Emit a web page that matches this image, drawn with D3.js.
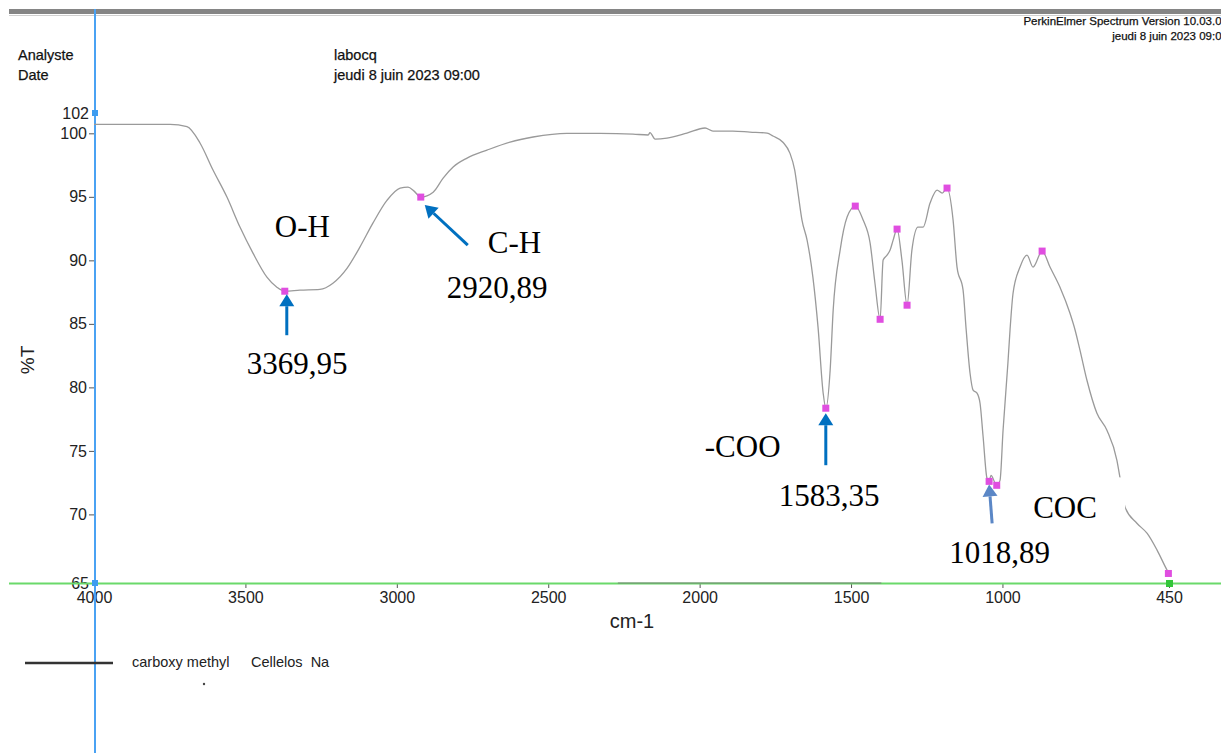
<!DOCTYPE html>
<html>
<head>
<meta charset="utf-8">
<script src="https://cdn.jsdelivr.net/npm/d3@7"></script>
<style>
body { margin: 0; background: #fff; }
svg { display: block; }
</style>
</head>
<body>
<div id="chart"></div>
<script>
// IR spectrum, carboxy methyl cellulose Na (%T against cm-1)
var wavenumbers = [4000, 3749, 3693, 3650, 3607, 3561, 3518, 3475, 3429, 3396, 3370, 3320, 3254, 3211,
	3164, 3122, 3079, 3032, 2989, 2963, 2943, 2921, 2880, 2847, 2814, 2768, 2702, 2626, 2550,
	2438, 2329, 2220, 2170, 2164, 2147, 2108, 2042, 1982, 1956, 1890, 1834, 1777, 1758, 1725,
	1702, 1686, 1675, 1662, 1645, 1626, 1609, 1592, 1583, 1569, 1559, 1536, 1513, 1486, 1460,
	1437, 1421, 1404, 1394, 1381, 1371, 1361, 1348, 1332, 1315, 1299, 1279, 1262, 1239, 1216,
	1199, 1183, 1163, 1150, 1130, 1120, 1107, 1097, 1084, 1074, 1064, 1051, 1044, 1038, 1019,
	1008, 998, 982, 975, 965, 942, 919, 899, 869, 843, 810, 777, 760, 744, 721, 688, 655, 622,
	612, 595, 556, 522, 489, 456, 450];
var transmittance = [100.71, 100.71, 100.52, 99.24, 97.11, 94.98, 92.62, 90.57, 88.68, 87.88, 87.57, 87.65, 87.71, 88.2,
	89.39, 91.04, 92.93, 94.74, 95.69, 95.77, 95.45, 94.98, 95.37, 96.48, 97.35, 98.05, 98.68, 99.31, 99.71,
	100, 100, 99.94, 99.87, 100.05, 99.55, 99.63, 100.02, 100.42, 100.18, 100.18, 100.1, 100.02, 99.79, 99.3,
	98.44, 97.1, 95.29, 93.17, 91.58, 88.68, 84.74, 79.54, 78.36, 81.35, 86.08, 90.81, 93.41, 94.27, 93.17,
	91.36, 88.2, 85.36, 90.02, 90.41, 90.81, 91.59, 92.46, 90.02, 86.47, 90.81, 92.62, 92.62, 94.51, 95.53,
	95.3, 95.69, 93.17, 89.47, 87.65, 84.6, 81.11, 79.78, 79.54, 78.75, 76.15, 72.84, 72.6, 73.07, 72.29,
	72.68, 76.62, 81.9, 84.5, 87.41, 89.47, 90.41, 89.47, 90.73, 89.47, 87.88, 85.83, 84.5, 82.93, 80.56, 77.96, 76.62, 74.26,
	72.92, 70.56, 69.3, 68.5, 67.17, 65.6, 65.35];

// marked peaks
var peakWn = [3369.95, 2920.89, 1583.35, 1486, 1404, 1348, 1315, 1183, 1044, 1018.89, 869, 452];
var peakT = [87.57, 94.98, 78.36, 94.27, 85.36, 92.46, 86.47, 95.69, 72.6, 72.29, 90.73, 65.35];

// band annotations
var bandNames = ["O-H", "C-H", "-COO", "COC"];
var bandValues = ["3369,95", "2920,89", "1583,35", "1018,89"];
var bandPeak = [0, 1, 2, 8];

var xTicks = [4000, 3500, 3000, 2500, 2000, 1500, 1000, 450];
var yTicks = [70, 75, 80, 85, 90, 95, 100];
var yEndLabels = ["102", "65"];

var W = 1221, H = 753;

var svg = d3.select("#chart").append("svg")
	.attr("width", W)
	.attr("height", H)
	.style("font-family", "'Liberation Sans', Arial, sans-serif");

var x = d3.scaleLinear().domain([4000, 450]).range([94, 1169]);
var y = d3.scaleLinear().domain([64.6, 101.6]).range([583, 113]);

// top bar
svg.append("rect").attr("x", 9).attr("y", 9).attr("width", W - 9).attr("height", 5).style("fill", "#858585");
svg.append("line").attr("x1", 9).attr("x2", W).attr("y1", 15.5).attr("y2", 15.5).style("stroke", "#d0d0d0");

// header texts
var head = svg.append("g").style("fill", "#111").style("font-size", "14.5px")
	.style("stroke", "#111").style("stroke-width", 0.25);
head.append("text").attr("x", 18).attr("y", 60).text("Analyste");
head.append("text").attr("x", 18).attr("y", 80).text("Date");
head.append("text").attr("x", 334).attr("y", 60).text("labocq");
head.append("text").attr("x", 334).attr("y", 80).text("jeudi 8 juin 2023 09:00");
head.append("text").attr("x", 1228).attr("y", 25).style("font-size", "11.5px").style("text-anchor", "end")
	.text("PerkinElmer Spectrum Version 10.03.00");
head.append("text").attr("x", 1228).attr("y", 40).style("font-size", "11.5px").style("text-anchor", "end")
	.text("jeudi 8 juin 2023 09:00");

// axes
var yAxis = svg.append("g")
	.attr("transform", "translate(94,0)")
	.call(d3.axisLeft(y).tickValues(yTicks).tickSize(5).tickPadding(2));
yAxis.select(".domain").remove();
yAxis.selectAll("text").style("font-size", "16px").style("fill", "#222").style("font-family", "'Liberation Sans', Arial, sans-serif");
yAxis.selectAll("line").style("stroke", "#555");

svg.selectAll("text.yend")
	.data(yEndLabels)
	.enter().append("text")
	.attr("class", "yend")
	.attr("x", 89)
	.attr("y", function(d, i) { return y.range()[1 - i]; })
	.attr("dy", "0.35em")
	.style("text-anchor", "end")
	.style("font-size", "16px")
	.style("fill", "#222")
	.text(function(d) { return d; });

var xAxis = svg.append("g")
	.attr("transform", "translate(0,583)")
	.call(d3.axisBottom(x).tickValues(xTicks).tickSize(5).tickPadding(4).tickFormat(d3.format("d")));
xAxis.select(".domain").remove();
xAxis.selectAll("text").style("font-size", "16px").style("fill", "#222").style("font-family", "'Liberation Sans', Arial, sans-serif");
xAxis.selectAll("line").style("stroke", "#555");

svg.append("text")
	.attr("transform", "translate(34,360) rotate(-90)")
	.style("text-anchor", "middle")
	.style("font-size", "19px")
	.style("fill", "#222")
	.text("%T");

svg.append("text")
	.attr("x", 632).attr("y", 628)
	.style("text-anchor", "middle")
	.style("font-size", "20px")
	.style("fill", "#222")
	.text("cm-1");

// green baseline and blue cursor
svg.append("line").attr("x1", 9).attr("x2", W).attr("y1", 583.5).attr("y2", 583.5)
	.style("stroke", "#6ad96a").style("stroke-width", 2);
svg.append("line").attr("x1", x(2270)).attr("x2", x(1400)).attr("y1", 583).attr("y2", 583)
	.style("stroke", "#777").style("stroke-width", 1.5).style("opacity", 0.6);
svg.append("line").attr("x1", 95).attr("x2", 95).attr("y1", 9).attr("y2", H)
	.style("stroke", "#4aa2f3").style("stroke-width", 2);
svg.selectAll("rect.cursor")
	.data(y.range())
	.enter().append("rect")
	.attr("class", "cursor")
	.attr("x", 92).attr("y", function(d) { return d - 3; })
	.attr("width", 6).attr("height", 6)
	.style("fill", "#3d9cf0");
svg.append("rect").attr("x", x(450) - 3).attr("y", 580).attr("width", 7).attr("height", 7).style("fill", "#33c63a");

// spectrum line
var pts = wavenumbers.map(function(d, i) { return [d, transmittance[i]]; });
var line = d3.line()
	.x(function(d) { return x(d[0]); })
	.y(function(d) { return y(d[1]); })
	.curve(d3.curveMonotoneX);
svg.append("path")
	.datum(pts)
	.attr("d", line)
	.style("fill", "none")
	.style("stroke", "#9a9a9a")
	.style("stroke-width", 1.3);

// peak markers
svg.selectAll("rect.peak")
	.data(peakWn)
	.enter().append("rect")
	.attr("class", "peak")
	.attr("x", function(d) { return x(d) - 3.5; })
	.attr("y", function(d, i) { return y(peakT[i]) - 3.5; })
	.attr("width", 7).attr("height", 7)
	.style("fill", "#e04ee0");

// annotations (offsets relative to the marked peak)
var layout = [
	{ tail: [2, 44], tip: [2, 3], name: [-10, -54], value: [-38, 83], color: "#0070c0" },
	{ tail: [47, 48], tip: [4, 8], name: [67, 56], value: [26, 101], color: "#0070c0" },
	{ tail: [0, 57], tip: [0, 5], name: [-121, 49], value: [-47, 98], color: "#0070c0" },
	{ tail: [3, 42], tip: [0, 3], name: [44, 37], value: [-40, 82], color: "#5b87c6" }
];

function arrow(g, x1, y1, x2, y2, color) {
	var dx = x2 - x1, dy = y2 - y1, len = Math.sqrt(dx * dx + dy * dy);
	var ux = dx / len, uy = dy / len, nx = -uy, ny = ux;
	var bx = x2 - ux * 12, by = y2 - uy * 12;
	g.append("line").attr("x1", x1).attr("y1", y1).attr("x2", bx).attr("y2", by)
		.style("stroke", color).style("stroke-width", 3);
	g.append("polygon")
		.attr("points", [[x2, y2], [bx + nx * 7.5, by + ny * 7.5], [bx - nx * 7.5, by - ny * 7.5]].join(" "))
		.style("fill", color);
}

var ann = svg.append("g").style("font-family", "'Liberation Serif', 'Times New Roman', serif").style("font-size", "31px");
bandNames.forEach(function(name, i) {
	var p = bandPeak[i], L = layout[i];
	var px = x(peakWn[p]), py = y(peakT[p]);
	if (name == "COC") {
		ann.append("rect").attr("x", px + 36).attr("y", py - 4).attr("width", 100).attr("height", 50).style("fill", "#fff");
	}
	arrow(ann, px + L.tail[0], py + L.tail[1], px + L.tip[0], py + L.tip[1], L.color);
	ann.append("text").attr("x", px + L.name[0]).attr("y", py + L.name[1]).style("fill", "#000").text(name);
	ann.append("text").attr("x", px + L.value[0]).attr("y", py + L.value[1]).style("fill", "#000").text(bandValues[i]);
});

// legend
svg.append("line").attr("x1", 25).attr("x2", 113).attr("y1", 663).attr("y2", 663)
	.style("stroke", "#333").style("stroke-width", 2.5);
svg.append("text").attr("x", 132).attr("y", 667).style("font-size", "14.5px").style("fill", "#222").text("carboxy methyl");
svg.append("text").attr("x", 251).attr("y", 667).style("font-size", "14.5px").style("fill", "#222").text("Cellelos  Na").attr("xml:space", "preserve");
svg.append("circle").attr("cx", 204).attr("cy", 684).attr("r", 1.2).style("fill", "#444");
</script>
</body>
</html>
